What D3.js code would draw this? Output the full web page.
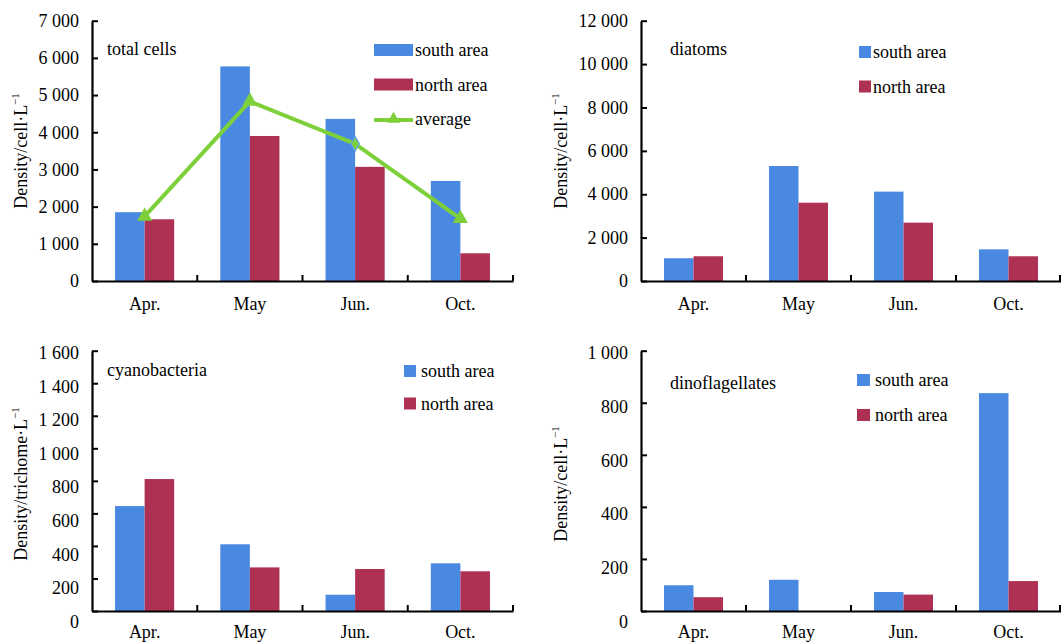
<!DOCTYPE html>
<html>
<head>
<meta charset="utf-8">
<script src="https://cdn.jsdelivr.net/npm/d3@7"></script>
<style>
  html, body { margin: 0; padding: 0; background: #fff; }
  svg { display: block; font-family: "Liberation Serif", "Times New Roman", serif; }
</style>
</head>
<body>
<svg id="chart" width="1061" height="642"></svg>
<script>
// ---------- DATA ----------
const categories = ["Apr.", "May", "Jun.", "Oct."];
const seriesNames = ["south area", "north area"];

const totalSouth   = [1850, 5770, 4360, 2690];
const totalNorth   = [1660, 3900, 3070, 745];
const totalAverage = [1740, 4830, 3690, 1680];

const diatomSouth = [1050, 5300, 4120, 1460];
const diatomNorth = [1140, 3610, 2690, 1140];

const cyanoSouth = [645, 410, 100, 293];
const cyanoNorth = [811, 268, 258, 244];

const dinoSouth = [99, 120, 73, 837];
const dinoNorth = [53, 0, 63, 115];

const totalTicks = [0, 1000, 2000, 3000, 4000, 5000, 6000, 7000];
const diatomTicks = [0, 2000, 4000, 6000, 8000, 10000, 12000];
const cyanoTicks = [0, 200, 400, 600, 800, 1000, 1200, 1400, 1600];
const dinoTicks = [0, 200, 400, 600, 800, 1000];

// ---------- STYLE ----------
const colorSouth = "#4a89e1";
const colorNorth = "#ae3053";
const colorAvg = "#7ed03a";
const fontSize = 18;

const fmt = v => (v >= 1000 ? d3.format("d")(Math.floor(v / 1000)) + " " + d3.format("03d")(v % 1000) : String(v));

const svg = d3.select("#chart");

const panels = [
  { x0: 92, x1: 513, yTop: 20.7, yBase: 281, ticks: totalTicks, south: totalSouth, north: totalNorth, avg: totalAverage,
    title: "total cells", titleX: 107, titleY: 55, unit: "cell", drift: 0, xPad: 16,
    legend: { x: 374, y: 44, w: 39, h: 12, tx: 415, step: 34.5 }, ylabelX: 27, ylabelY: 151 },
  { x0: 641, x1: 1061, yTop: 20.7, yBase: 281, ticks: diatomTicks, south: diatomSouth, north: diatomNorth,
    title: "diatoms", titleX: 670, titleY: 55, unit: "cell", drift: 0, xPad: 16,
    legend: { x: 859, y: 46, w: 12, h: 12, tx: 873, step: 34.5 }, ylabelX: 567, ylabelY: 151 },
  { x0: 92, x1: 513, yTop: 350.7, yBase: 611, ticks: cyanoTicks, south: cyanoSouth, north: cyanoNorth,
    title: "cyanobacteria", titleX: 107, titleY: 376, unit: "trichome", drift: 1, xPad: 14,
    legend: { x: 404, y: 365, w: 12, h: 12, tx: 421, step: 32.5 }, ylabelX: 27, ylabelY: 484 },
  { x0: 641, x1: 1061, yTop: 350.7, yBase: 611, ticks: dinoTicks, south: dinoSouth, north: dinoNorth,
    title: "dinoflagellates", titleX: 670, titleY: 389, unit: "cell", drift: 1, xPad: 14,
    legend: { x: 857, y: 374, w: 13, h: 12, tx: 875, step: 35 }, ylabelX: 567, ylabelY: 484 }
];

panels.forEach(p => {
  const g = svg.append("g");
  const x = d3.scaleBand().domain(categories).range([p.x0, p.x1]).padding(0);
  const xs = d3.scaleBand().domain(seriesNames).range([0, x.bandwidth()]).paddingInner(0).paddingOuter(0.78);
  const maxV = d3.max(p.ticks);
  const y = d3.scaleLinear().domain([0, maxV]).range([p.yBase, p.yTop]);

  // bars
  const rows = categories.map((c, i) => ({ c, vals: [p.south[i], p.north[i]] }));
  const grp = g.selectAll("g.cat").data(rows).join("g").attr("transform", d => `translate(${x(d.c)},0)`);
  grp.selectAll("rect").data(d => d.vals.map((v, j) => ({ v, s: seriesNames[j] })))
    .join("rect")
    .attr("x", d => xs(d.s))
    .attr("width", xs.bandwidth())
    .attr("y", d => y(d.v))
    .attr("height", d => p.yBase - y(d.v))
    .attr("fill", d => d.s === "south area" ? colorSouth : colorNorth);

  // y axis
  const yAxis = d3.axisLeft(y).tickValues(p.ticks).tickSizeInner(-6).tickSizeOuter(0).tickPadding(13).tickFormat(fmt);
  const ya = g.append("g").attr("transform", `translate(${p.x0},0)`).call(yAxis);
  ya.select(".domain").attr("stroke", "#000").attr("stroke-width", 2.2);
  ya.selectAll(".tick line").attr("stroke", "#000").attr("stroke-width", 2);
  ya.selectAll(".tick text").attr("font-size", fontSize).attr("font-family", "Liberation Serif").attr("fill", "#000")
    .attr("y", d => p.drift ? 2 + 8.7 * (1 - d / maxV) : 0);

  // x axis
  const xAxis = d3.axisBottom(x).tickSize(0).tickPadding(p.xPad);
  const xa = g.append("g").attr("transform", `translate(0,${p.yBase})`).call(xAxis);
  xa.select(".domain").attr("stroke", "#000").attr("stroke-width", 2.2);
  xa.selectAll(".tick text").attr("font-size", fontSize).attr("font-family", "Liberation Serif").attr("fill", "#000");
  // boundary ticks (inward)
  g.selectAll("line.bt").data(categories).join("line")
    .attr("x1", d => Math.min(x(d) + x.bandwidth(), 1060)).attr("x2", d => Math.min(x(d) + x.bandwidth(), 1060))
    .attr("y1", p.yBase).attr("y2", p.yBase - 6)
    .attr("stroke", "#000").attr("stroke-width", 2);

  // average line
  if (p.avg) {
    const cx = c => x(c) + x.bandwidth() / 2;
    const line = d3.line().x((d, i) => cx(categories[i])).y(d => y(d));
    g.append("path").datum(p.avg).attr("d", line).attr("fill", "none")
      .attr("stroke", colorAvg).attr("stroke-width", 4).attr("stroke-linejoin", "round");
    g.selectAll("path.mk").data(p.avg).join("path")
      .attr("transform", (d, i) => `translate(${cx(categories[i])},${y(d)})`)
      .attr("d", (d, i) => i === 2 ? d3.symbol(d3.symbolDiamond, 60)() : d3.symbol(d3.symbolTriangle, 100)())
      .attr("fill", colorAvg)
      .attr("stroke", (d, i) => i === 2 ? "#5aa0e8" : "none")
      .attr("stroke-width", 1.2);
  }

  // title
  g.append("text").attr("x", p.titleX).attr("y", p.titleY).attr("font-size", fontSize).text(p.title);

  // legend
  const L = p.legend;
  const items = [{ n: "south area", c: colorSouth }, { n: "north area", c: colorNorth }];
  items.forEach((it, i) => {
    g.append("rect").attr("x", L.x).attr("y", L.y + i * L.step).attr("width", L.w).attr("height", L.h).attr("fill", it.c);
    g.append("text").attr("x", L.tx).attr("y", L.y + i * L.step + L.h).attr("font-size", fontSize).text(it.n);
  });
  if (p.avg) {
    const ly = L.y + 2 * L.step + L.h / 2 + 1;
    g.append("line").attr("x1", L.x).attr("x2", L.x + L.w).attr("y1", ly).attr("y2", ly)
      .attr("stroke", colorAvg).attr("stroke-width", 4);
    g.append("path").attr("transform", `translate(${L.x + L.w / 2},${ly - 1})`)
      .attr("d", d3.symbol(d3.symbolTriangle, 70)()).attr("fill", colorAvg);
    g.append("text").attr("x", L.tx).attr("y", L.y + 2 * L.step + L.h).attr("font-size", fontSize).text("average");
  }

  // y label
  const t = g.append("text")
    .attr("transform", `translate(${p.ylabelX},${p.ylabelY}) rotate(-90)`)
    .attr("text-anchor", "middle").attr("font-size", fontSize);
  t.append("tspan").text(`Density/${p.unit}\u00B7L`);
  t.append("tspan").attr("font-size", 11).attr("dy", -8).text("\u2212" + "1");
});
</script>
</body>
</html>
